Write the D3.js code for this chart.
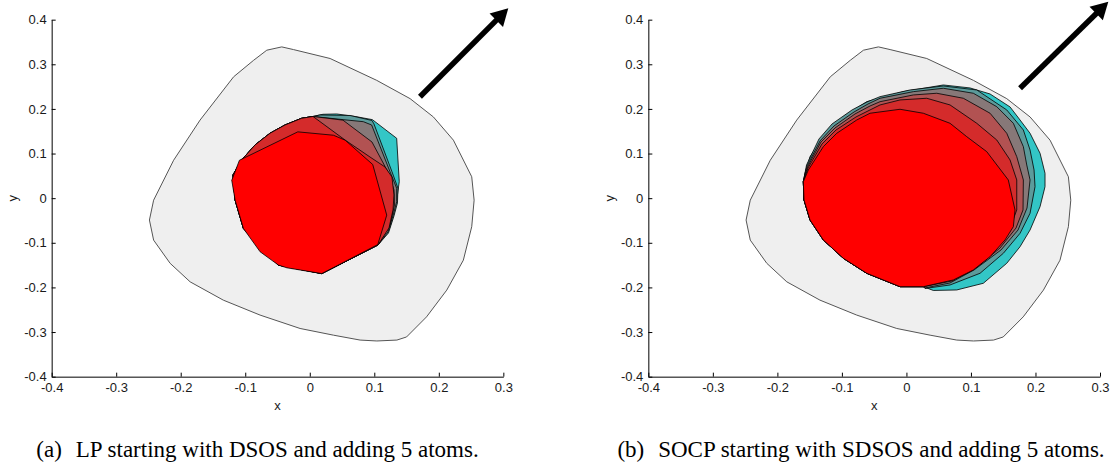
<!DOCTYPE html>
<html>
<head>
<meta charset="utf-8">
<script src="https://cdn.jsdelivr.net/npm/d3@7"></script>
<style>
  body { margin: 0; background: #fff; }
  svg { display: block; }
</style>
</head>
<body>
<div id="chart"></div>
<script>
// ---- data (data units) ----
const xTicks = [-0.4, -0.3, -0.2, -0.1, 0, 0.1, 0.2, 0.3];
const xTickLabels = ["-0.4", "-0.3", "-0.2", "-0.1", "0", "0.1", "0.2", "0.3"];
const yTicks = [-0.4, -0.3, -0.2, -0.1, 0, 0.1, 0.2, 0.3, 0.4];
const yTickLabels = ["-0.4", "-0.3", "-0.2", "-0.1", "0", "0.1", "0.2", "0.3", "0.4"];

// feasible region (light gray), same in both panels
const outerRegion = [
  [-0.0666, 0.3316], [-0.0434, 0.339], [-0.0253, 0.333], [0.0315, 0.313], [0.1038, 0.264],
  [0.1555, 0.223], [0.1916, 0.182], [0.2226, 0.130], [0.251, 0.048], [0.2547, -0.0045],
  [0.251, -0.064], [0.238, -0.139], [0.2123, -0.206], [0.181, -0.266], [0.150, -0.311],
  [0.135, -0.318], [0.104, -0.320], [0.078, -0.318], [0.0367, -0.307], [-0.015, -0.292],
  [-0.077, -0.262], [-0.134, -0.2285], [-0.1854, -0.1875], [-0.2164, -0.146], [-0.242, -0.094],
  [-0.2485, -0.049], [-0.242, -0.0045], [-0.211, 0.085], [-0.170, 0.175], [-0.118, 0.272],
  [-0.087, 0.309]
];

const layerColors = ["#33c6c6", "#5c9b9b", "#877878", "#b25252", "#d42b2b", "#ff0000"];

// (a) LP: shared upper-left edge and lower edge of the atom layers
const lpShared = [
  [-0.1157, -0.0045], [-0.1190, 0.0520], [-0.1055, 0.0856], [-0.0849, 0.1192],
  [-0.0617, 0.1454], [-0.0384, 0.1640], [-0.0126, 0.1790], [0.0050, 0.1831]
];
const lpBottom = [[0.1057, -0.1049], [0.0186, -0.169], [-0.0486, -0.150], [-0.1028, -0.068]];

const lpAtom5 = [
  [0.0205, 0.1880], [0.0417, 0.1887], [0.0701, 0.1831], [0.0970, 0.1760], [0.1347, 0.1342],
  [0.1387, 0.0370], [0.1359, 0.0072], [0.1313, -0.0309], [0.1228, -0.0713]
];
const lpAtom4 = [
  [0.0158, 0.1865], [0.0623, 0.1853], [0.0964, 0.1741], [0.0995, 0.1663], [0.1274, 0.0594],
  [0.1367, 0.0222], [0.1359, -0.0108], [0.1305, -0.0399], [0.1220, -0.0780]
];
const lpAtom3 = [
  [0.0515, 0.1760], [0.0830, 0.1714], [0.0959, 0.1640], [0.1243, 0.0594], [0.1347, 0.0222],
  [0.1347, -0.0078], [0.1294, -0.0376], [0.1212, -0.0757]
];
const lpAtom2 = [
  [0.0515, 0.1748], [0.0964, 0.1259], [0.1212, 0.0587], [0.1305, 0.0184],
  [0.1313, -0.0152], [0.1243, -0.0600]
];
const lpAtom1 = [
  [0.0546, 0.1304], [0.0933, 0.0923], [0.1166, 0.0699], [0.1274, 0.0475],
  [0.1305, 0.0072], [0.1290, -0.0265], [0.1228, -0.0668]
];
const lpDsos = [
  [-0.0186, 0.1486], [0.0367, 0.141], [0.0548, 0.130], [0.0976, 0.0754], [0.1193, -0.038],
  [0.1054, -0.104], [0.0186, -0.169], [-0.0356, -0.156], [-0.0486, -0.150], [-0.077, -0.120],
  [-0.1028, -0.068], [-0.1157, -0.0045], [-0.1209, 0.040], [-0.109, 0.085]
];

// (b) SOCP: shared lower-left edge of the atom layers
const socpBottom = [
  [0.0262, -0.1983], [-0.0099, -0.1983], [-0.0615, -0.1683], [-0.0978, -0.1347],
  [-0.1288, -0.0937], [-0.1494, -0.0489], [-0.1587, -0.0040], [-0.1598, 0.0370]
];
const socpAtom5 = [
  [-0.1572, 0.0558], [-0.1494, 0.0930], [-0.1288, 0.1378], [-0.0978, 0.1826], [-0.0615, 0.2162],
  [-0.0048, 0.2387], [0.0572, 0.2537], [0.0986, 0.2470], [0.1296, 0.2335], [0.1606, 0.2044],
  [0.1761, 0.1752], [0.1916, 0.1454], [0.2071, 0.1006], [0.2148, 0.0558], [0.2148, 0.0258],
  [0.2071, -0.0190], [0.1916, -0.0713], [0.1761, -0.1087], [0.1555, -0.1459], [0.1192, -0.1907],
  [0.0780, -0.2057], [0.0417, -0.2068]
];
const socpAtom4 = [
  [-0.1548, 0.0744], [-0.1355, 0.1327], [-0.1153, 0.1663], [-0.0843, 0.1977], [-0.0611, 0.2156],
  [-0.0409, 0.2275], [0.0056, 0.2425], [0.0572, 0.2514], [0.1090, 0.2425], [0.1555, 0.1977],
  [0.1812, 0.1528], [0.1916, 0.1080], [0.1978, 0.0632], [0.1993, 0.0258], [0.1916, -0.0338],
  [0.1761, -0.0787], [0.1502, -0.1235], [0.1141, -0.1683], [0.0676, -0.1945], [0.0288, -0.2024]
];
const socpAtom3 = [
  [-0.1541, 0.0722], [-0.1339, 0.1282], [-0.1122, 0.1618], [-0.0812, 0.1932], [-0.0595, 0.2111],
  [-0.0409, 0.2239], [0.0107, 0.2387], [0.0572, 0.2463], [0.1037, 0.2351], [0.1400, 0.2050],
  [0.1657, 0.1678], [0.1812, 0.1154], [0.1865, 0.0744], [0.1916, 0.0408], [0.1869, -0.0220],
  [0.1730, -0.0713], [0.1466, -0.1161], [0.1048, -0.1609], [0.0676, -0.1900], [0.0288, -0.2012]
];
const socpAtom2 = [
  [-0.1533, 0.0699], [-0.1324, 0.1259], [-0.1107, 0.1573], [-0.0797, 0.1887], [-0.0564, 0.2066],
  [-0.0409, 0.2162], [0.0107, 0.2313], [0.0470, 0.2351], [0.0882, 0.2239], [0.1296, 0.1903],
  [0.1555, 0.1454], [0.1710, 0.0930], [0.1812, 0.0408], [0.1807, -0.0264], [0.1699, -0.0668],
  [0.1451, -0.1116], [0.1079, -0.1564], [0.0707, -0.1855]
];
const socpAtom1 = [
  [-0.1525, 0.0677], [-0.1308, 0.1215], [-0.1091, 0.1528], [-0.0781, 0.1820], [-0.0564, 0.1977],
  [-0.0409, 0.2089], [-0.0099, 0.2201], [0.0315, 0.2239], [0.0676, 0.2089], [0.1090, 0.1678],
  [0.1400, 0.1304], [0.1606, 0.0856], [0.1710, 0.0408], [0.1710, -0.0264], [0.1606, -0.0668],
  [0.1373, -0.1116], [0.1017, -0.1564], [0.0676, -0.1833]
];
const socpSdsos = [
  [-0.1598, 0.0370], [-0.1520, 0.0632], [-0.1288, 0.1154], [-0.1080, 0.1454], [-0.0770, 0.1752],
  [-0.0564, 0.1903], [-0.0099, 0.1992], [0.0262, 0.1903], [0.0676, 0.1678], [0.0935, 0.1378],
  [0.1245, 0.1042], [0.1579, 0.0408], [0.1683, -0.0264], [0.1657, -0.0639], [0.1528, -0.0937],
  [0.1296, -0.1311], [0.1037, -0.1609], [0.0727, -0.1833], [0.0262, -0.1983], [-0.0099, -0.1983],
  [-0.0615, -0.1683], [-0.0978, -0.1347], [-0.1288, -0.0937], [-0.1494, -0.0489], [-0.1587, -0.0040]
];

// objective direction arrows: [start, tip]
const lpArrow = [[0.1708, 0.2274], [0.3077, 0.4255]];
const socpArrow = [[0.1761, 0.2463], [0.3129, 0.4403]];

const panels = [
  {
    x0: 51.67,
    layers: [
      [...lpShared, ...lpAtom5, ...lpBottom],
      [...lpShared, ...lpAtom4, ...lpBottom],
      [...lpShared, ...lpAtom3, ...lpBottom],
      [...lpShared, ...lpAtom2, ...lpBottom],
      [...lpShared, ...lpAtom1, ...lpBottom],
      lpDsos
    ],
    arrow: lpArrow,
    tag: "(a)",
    caption: "LP starting with DSOS and adding 5 atoms.",
    captionX: 257.5
  },
  {
    x0: 648.33,
    layers: [
      [...socpAtom5, ...socpBottom],
      [...socpAtom4, ...socpBottom],
      [...socpAtom3, ...socpBottom],
      [...socpAtom2, ...socpBottom],
      [...socpAtom1, ...socpBottom],
      socpSdsos
    ],
    arrow: socpArrow,
    tag: "(b)",
    caption: "SOCP starting with SDSOS and adding 5 atoms.",
    captionX: 861
  }
];

// ---- drawing ----
const width = 1113;
const height = 470;
const plotW = 451.67;
const yTop = 19.67, yBottom = 376.67;

const svg = d3.select("#chart").append("svg")
  .attr("width", width)
  .attr("height", height)
  .attr("viewBox", [0, 0, width, height]);

panels.forEach(p => {
  const x = d3.scaleLinear().domain([-0.4, 0.3]).range([p.x0, p.x0 + plotW]);
  const y = d3.scaleLinear().domain([-0.4, 0.4]).range([yBottom, yTop]);
  const line = d3.line().x(d => x(d[0])).y(d => y(d[1]));

  const g = svg.append("g");

  g.append("path")
    .attr("d", line(outerRegion) + "Z")
    .attr("fill", "#efefef")
    .attr("stroke", "#555")
    .attr("stroke-width", 1);

  g.selectAll("path.layer")
    .data(p.layers)
    .join("path")
    .attr("class", "layer")
    .attr("d", d => line(d) + "Z")
    .attr("fill", (d, i) => layerColors[i])
    .attr("stroke", "#000")
    .attr("stroke-width", 0.8)
    .attr("stroke-linejoin", "round");

  // arrow
  const [s, t] = p.arrow;
  const sx = x(s[0]), sy = y(s[1]), tx = x(t[0]), ty = y(t[1]);
  const ang = Math.atan2(ty - sy, tx - sx);
  const headLen = 17, headHalf = 9.5;
  const bx = tx - headLen * Math.cos(ang), by = ty - headLen * Math.sin(ang);
  g.append("line")
    .attr("x1", sx).attr("y1", sy)
    .attr("x2", bx + 2 * Math.cos(ang)).attr("y2", by + 2 * Math.sin(ang))
    .attr("stroke", "#000")
    .attr("stroke-width", 5.5);
  g.append("path")
    .attr("d", `M${tx},${ty}L${bx - headHalf * Math.sin(ang)},${by + headHalf * Math.cos(ang)}` +
      `L${bx + headHalf * Math.sin(ang)},${by - headHalf * Math.cos(ang)}Z`)
    .attr("fill", "#000");

  // axes (ticks point inward, no box)
  const xAxis = g.append("g")
    .attr("transform", `translate(0,${yBottom})`)
    .call(d3.axisBottom(x).tickValues(xTicks)
      .tickFormat((d, i) => xTickLabels[i])
      .tickSizeInner(-4).tickSizeOuter(0).tickPadding(6));
  const yAxis = g.append("g")
    .attr("transform", `translate(${p.x0},0)`)
    .call(d3.axisLeft(y).tickValues(yTicks)
      .tickFormat((d, i) => yTickLabels[i])
      .tickSizeInner(-4).tickSizeOuter(0).tickPadding(5));

  [xAxis, yAxis].forEach(a => {
    a.select(".domain").attr("stroke", "#000");
    a.selectAll(".tick line").attr("stroke", "#000");
    a.selectAll("text")
      .attr("fill", "#1a1a1a")
      .style("font-family", "'Liberation Sans', Arial, sans-serif")
      .style("font-size", "13px");
  });

  g.append("text")
    .attr("x", p.x0 + plotW / 2)
    .attr("y", 410)
    .attr("text-anchor", "middle")
    .style("font-family", "'Liberation Sans', Arial, sans-serif")
    .style("font-size", "13px")
    .attr("fill", "#1a1a1a")
    .text("x");

  g.append("text")
    .attr("transform", `translate(${p.x0 - 39},${y(0)}) rotate(-90)`)
    .attr("text-anchor", "middle")
    .attr("dy", "0.35em")
    .style("font-family", "'Liberation Sans', Arial, sans-serif")
    .style("font-size", "13px")
    .attr("fill", "#1a1a1a")
    .text("y");

  // caption
  const cap = svg.append("text")
    .attr("x", p.captionX)
    .attr("y", 457)
    .attr("text-anchor", "middle")
    .style("font-family", "'Liberation Serif', 'Times New Roman', serif")
    .style("font-size", "23px")
    .attr("fill", "#000");
  cap.append("tspan").text(p.tag);
  cap.append("tspan").attr("dx", 14).text(p.caption);
});
</script>
</body>
</html>
